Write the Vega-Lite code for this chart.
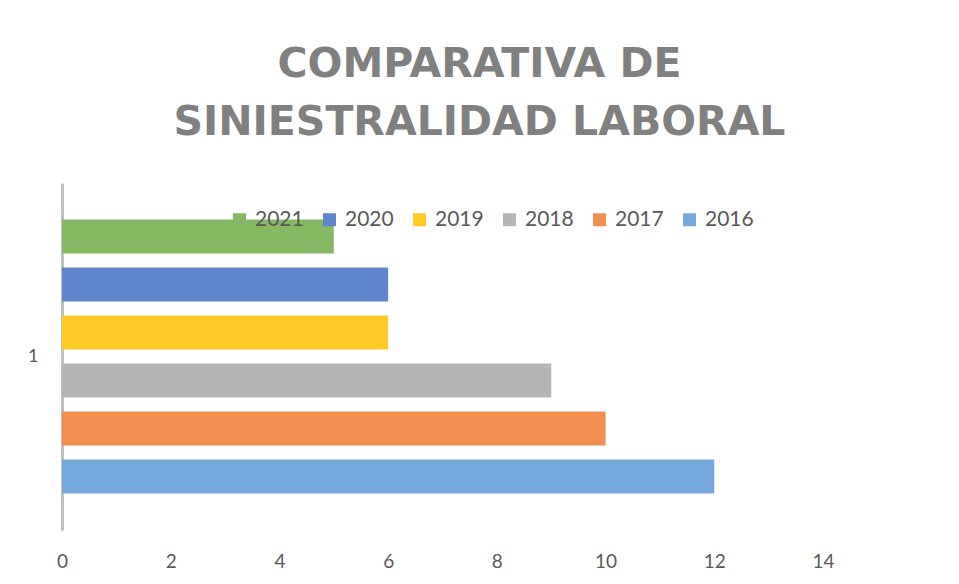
{
  "$schema": "https://vega.github.io/schema/vega-lite/v6.json",
  "autosize": "none",
  "width": 761,
  "height": 347,
  "padding": {"left": 62, "top": 183, "right": 136, "bottom": 54},
  "background": "white",
  "title": {
    "text": ["COMPARATIVA DE", "SINIESTRALIDAD LABORAL"],
    "font": "DejaVu Sans",
    "fontWeight": "bold",
    "fontSize": 41,
    "color": "#808080",
    "lineHeight": 58,
    "anchor": "middle",
    "dx": 37,
    "offset": 39
  },
  "data": {
    "values": [
      {"cat": "1", "year": "2021", "value": 5},
      {"cat": "1", "year": "2020", "value": 6},
      {"cat": "1", "year": "2019", "value": 6},
      {"cat": "1", "year": "2018", "value": 9},
      {"cat": "1", "year": "2017", "value": 10},
      {"cat": "1", "year": "2016", "value": 12}
    ]
  },
  "mark": {"type": "bar"},
  "encoding": {
    "y": {
      "field": "cat",
      "type": "nominal",
      "scale": {"paddingInner": 0, "paddingOuter": 0.1024},
      "axis": {
        "title": null,
        "ticks": false,
        "labelPadding": 24,
        "labelFont": "Lato",
        "labelFontSize": 18,
        "labelColor": "#595959",
        "labelAngle": 0,
        "domainColor": "#BFBFBF",
        "domainWidth": 3
      }
    },
    "yOffset": {
      "field": "year",
      "type": "nominal",
      "sort": ["2021", "2020", "2019", "2018", "2017", "2016"],
      "scale": {"paddingInner": 0.29, "paddingOuter": 0.145}
    },
    "x": {
      "field": "value",
      "type": "quantitative",
      "scale": {"domain": [0, 14], "nice": false},
      "axis": {
        "title": null,
        "values": [0, 2, 4, 6, 8, 10, 12, 14],
        "grid": false,
        "domain": false,
        "ticks": false,
        "labelFlush": false,
        "labelPadding": 22,
        "labelFont": "Lato",
        "labelFontSize": 19,
        "labelColor": "#595959"
      }
    },
    "color": {
      "field": "year",
      "type": "nominal",
      "scale": {
        "domain": ["2021", "2020", "2019", "2018", "2017", "2016"],
        "range": ["#85B862", "#5F86CC", "#FFC926", "#B5B5B5", "#F08F4F", "#75A9DC"]
      },
      "legend": {
        "title": null,
        "orient": "none",
        "legendX": 167,
        "legendY": 26,
        "direction": "horizontal",
        "columns": 6,
        "columnPadding": 15,
        "symbolType": "square",
        "symbolSize": 169,
        "symbolStrokeWidth": 0,
        "labelFont": "Lato",
        "labelFontSize": 21,
        "labelColor": "#595959",
        "labelOffset": 5
      }
    }
  },
  "config": {
    "view": {"stroke": null}
  }
}
